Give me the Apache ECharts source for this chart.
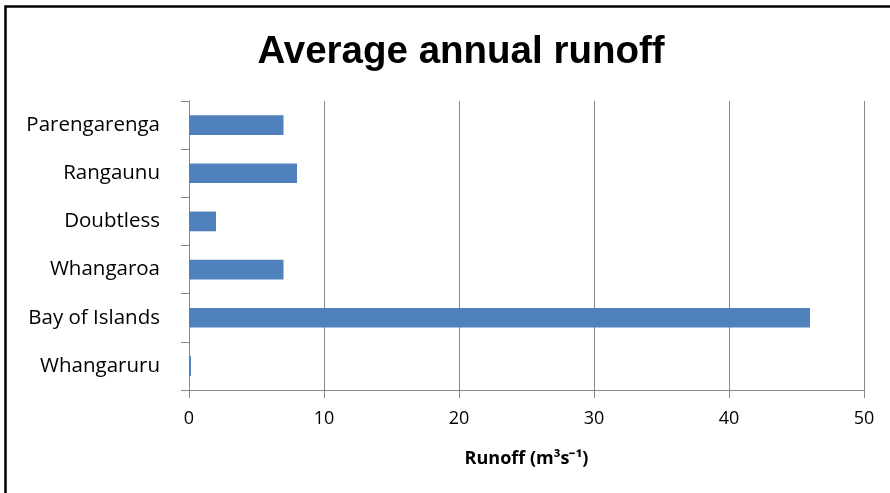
<!DOCTYPE html>
<html>
<head>
<meta charset="utf-8">
<script src="https://cdn.jsdelivr.net/npm/echarts@6/dist/echarts.min.js"></script>
<style>
  html, body { margin: 0; padding: 0; background: #fff; }
  #chart { width: 890px; height: 493px; }
</style>
</head>
<body>
<div id="chart"></div>
<script>
// Catchments, listed bottom to top as drawn on the category axis
const catchments = ['Whangaruru', 'Bay of Islands', 'Whangaroa', 'Doubtless', 'Rangaunu', 'Parengarenga'];
// Average annual runoff, m3/s
const runoff = [0.15, 46, 7, 2, 8, 7];
// Value axis ticks
const runoffTicks = [0, 10, 20, 30, 40, 50];

const chart = echarts.init(document.getElementById('chart'), null, { renderer: 'canvas' });
const labelFont = '"Open Sans", "Liberation Sans", sans-serif';

chart.setOption({
  backgroundColor: '#ffffff',
  animation: false,
  title: {
    text: 'Average annual runoff',
    left: 456,
    textAlign: 'center',
    top: 28,
    textStyle: {
      fontFamily: '"Liberation Sans Narrow", "Liberation Sans", sans-serif',
      fontWeight: 'bold',
      fontSize: 38.5,
      color: '#000'
    }
  },
  graphic: [{
    type: 'rect',
    shape: { x: 5.5, y: 6.5, width: 1200, height: 1200 },
    style: { fill: 'none', stroke: '#000', lineWidth: 2.5 },
    silent: true
  }],
  grid: { left: 189, right: 26, top: 101, bottom: 103, containLabel: false },
  xAxis: {
    type: 'value',
    min: runoffTicks[0],
    max: runoffTicks[runoffTicks.length - 1],
    interval: runoffTicks[1] - runoffTicks[0],
    name: 'Runoff (m³s⁻¹)',
    nameLocation: 'middle',
    nameGap: 60,
    nameTextStyle: { fontFamily: labelFont, fontWeight: 'bold', fontSize: 18, color: '#000' },
    axisLine: { show: true, lineStyle: { color: '#868686', width: 1 } },
    axisTick: { show: true, length: 8, inside: false, lineStyle: { color: '#868686' } },
    axisLabel: { margin: 20, fontFamily: labelFont, fontSize: 18, color: '#000' },
    splitLine: { show: true, lineStyle: { color: '#868686', width: 1 } }
  },
  yAxis: {
    type: 'category',
    data: catchments,
    axisLine: { show: true, lineStyle: { color: '#868686', width: 1 } },
    axisTick: { show: true, length: 8, alignWithLabel: false, lineStyle: { color: '#868686' } },
    axisLabel: { margin: 29, fontFamily: labelFont, fontSize: 20.5, color: '#000' },
    splitLine: { show: false }
  },
  series: [{
    type: 'bar',
    data: runoff,
    barWidth: '41%',
    itemStyle: { color: '#4F81BD' }
  }]
});
</script>
</body>
</html>
